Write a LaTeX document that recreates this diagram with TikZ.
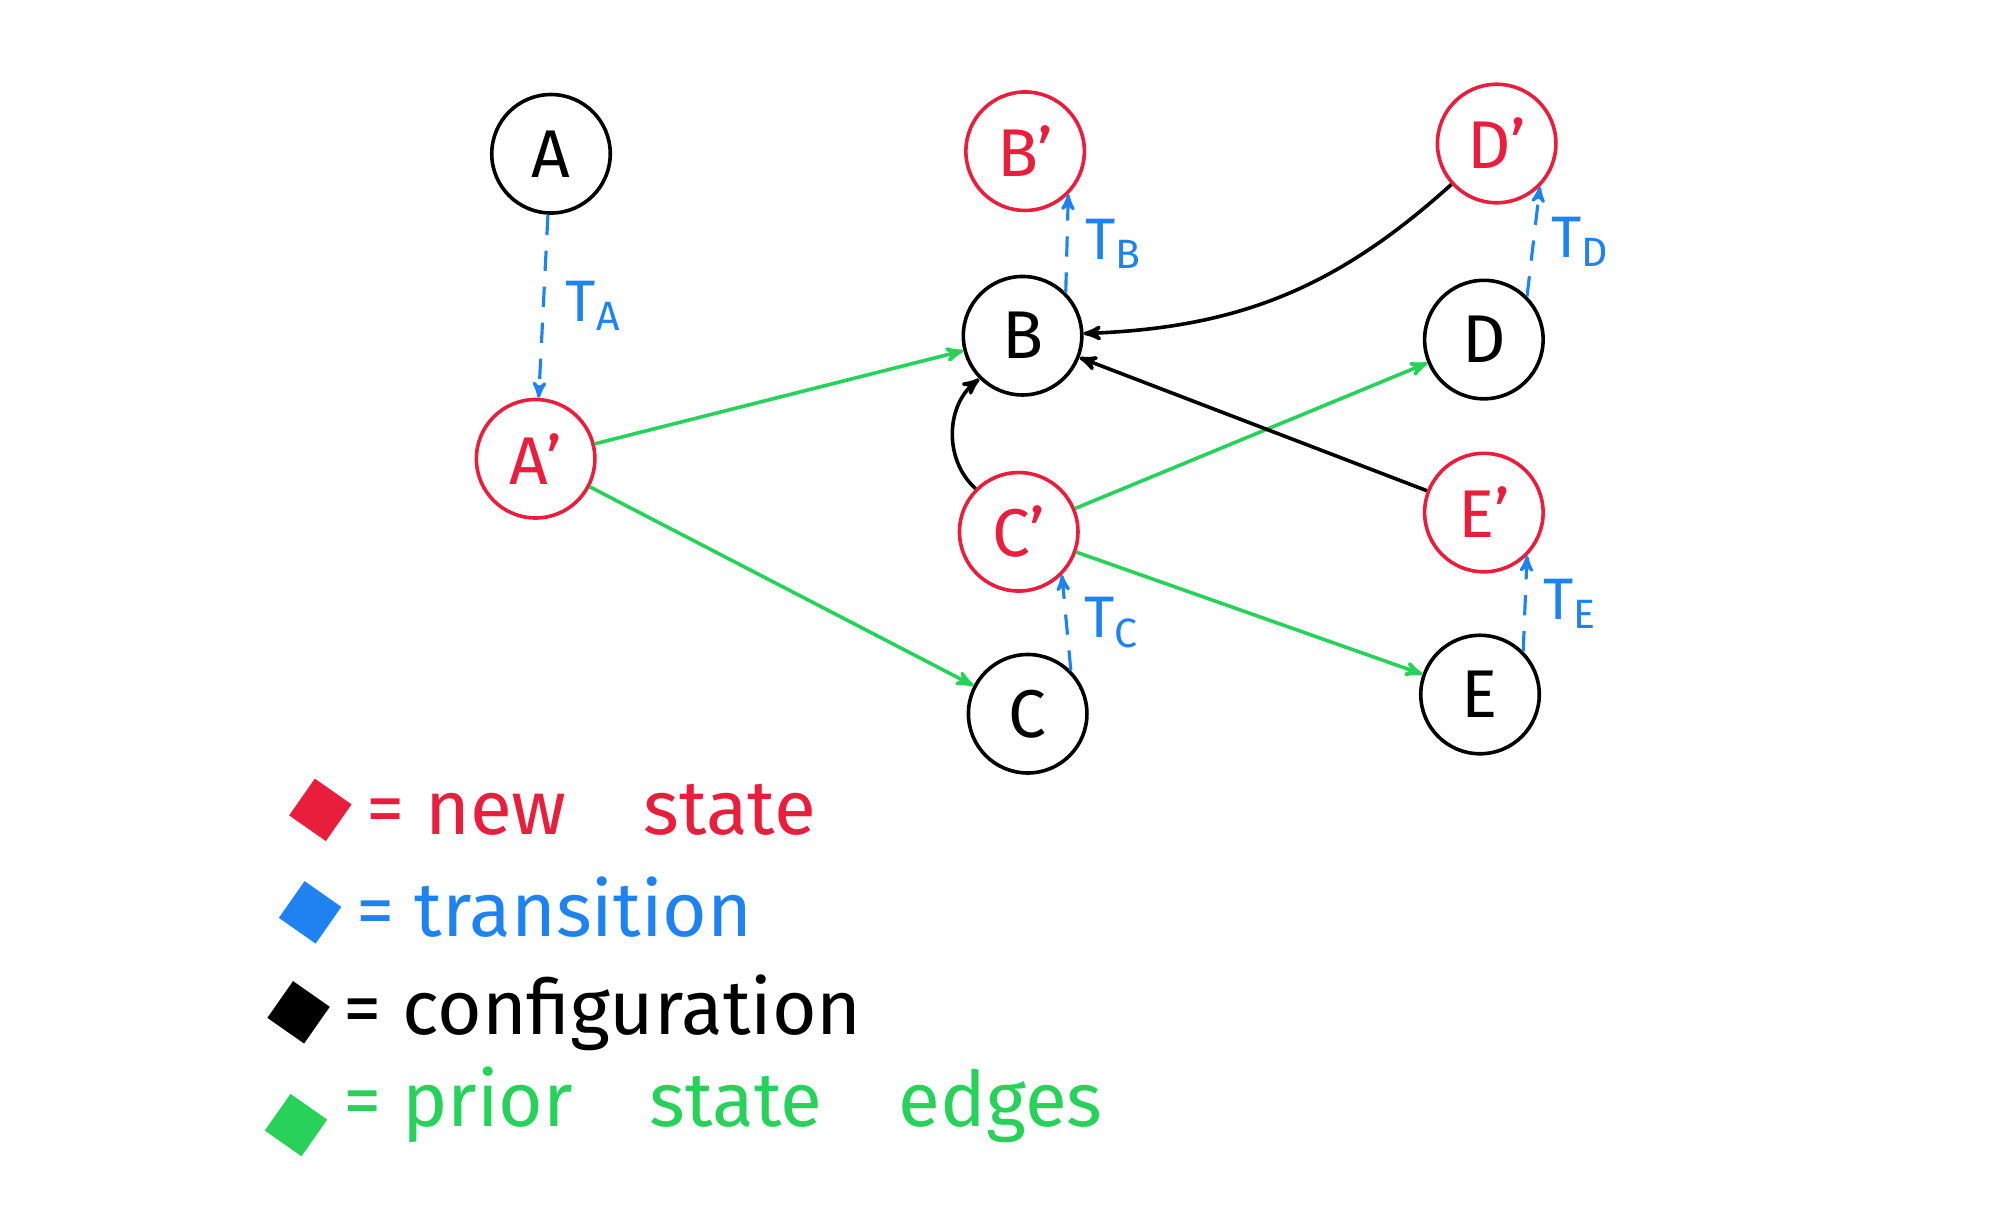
\documentclass[tikz,border=0pt]{standalone}
\usepackage{fontspec}
\setmainfont{Fira Sans}
\usetikzlibrary{arrows}
\definecolor{newred}{RGB}{232,30,60}
\definecolor{transblue}{RGB}{30,130,240}
\definecolor{priorgreen}{RGB}{40,210,90}
\tikzset{
  state/.style={circle, draw, line width=1.6pt, minimum size=1.85cm,
                font=\fontsize{30}{34}\selectfont},
  newstate/.style={state, draw=newred, text=newred},
  trans/.style={->, dash pattern=on 9pt off 7pt, draw=transblue, line width=1.4pt},
  prior/.style={->, draw=priorgreen, line width=1.6pt},
  config/.style={->, draw=black, line width=1.6pt},
  tlabel/.style={text=transblue, font=\fontsize{26}{30}\selectfont},
  legend/.style={anchor=west, font=\fontsize{34}{40}\selectfont},
  swatch/.style={rectangle, minimum width=0.7cm, minimum height=0.7cm, rotate=-35}
}
\begin{document}
\begin{tikzpicture}[x=0.02cm, y=-0.02cm, >=stealth', >={stealth'[scale=1.4]}]
    \useasboundingbox (0,0) rectangle (1560,960);

    \node[state] (a) at (430,120) {A};
    \node[newstate] (ap) at (418,358) {A'};
    \node[newstate] (bp) at (800,118) {B'};
    \node[state] (b) at (798,262) {B};
    \node[newstate] (cp) at (795,415) {C'};
    \node[state] (c) at (802,557) {C};
    \node[newstate] (dp) at (1168,112) {D'};
    \node[state] (d) at (1158,265) {D};
    \node[newstate] (ep) at (1158,400) {E'};
    \node[state] (e) at (1155,542) {E};

    \path
    %transitions
    (a) edge [trans] node [tlabel, right=6pt] {T$_{\mathrm{A}}$} (ap)
    (b.north east) edge [trans] node [tlabel, right=4pt] {T$_{\mathrm{B}}$} (bp.south east)
    (c.north east) edge [trans] node [tlabel, right=4pt] {T$_{\mathrm{C}}$} (cp.south east)
    (d.north east) edge [trans] node [tlabel, right=4pt] {T$_{\mathrm{D}}$} (dp.south east)
    (e.north east) edge [trans] node [tlabel, right=4pt] {T$_{\mathrm{E}}$} (ep.south east)
    %prior state edges
    (ap) edge [prior] (b)
    (ap) edge [prior] (c)
    (cp) edge [prior] (d)
    (cp) edge [prior] (e)
    %configuration
    (dp) edge [config, bend left=20] (b)
    (ep) edge [config] (b)
    (cp.north west) edge [config, bend left=50] (b.south west);

    \node[swatch, fill=newred] (sr) at (250,632) {};
    \node[swatch, fill=transblue] (sb) at (242,712) {};
    \node[swatch, fill=black] (sk) at (233,790) {};
    \node[swatch, fill=priorgreen] (sg) at (231,878) {};
    \node[legend, text=newred] at (280,632) {= new\quad state};
    \node[legend, text=transblue] at (272,708) {= transition};
    \node[legend] at (262,790) {= configuration};
    \node[legend, text=priorgreen] at (262,862) {= prior\quad state\quad edges};
\end{tikzpicture}
\end{document}
